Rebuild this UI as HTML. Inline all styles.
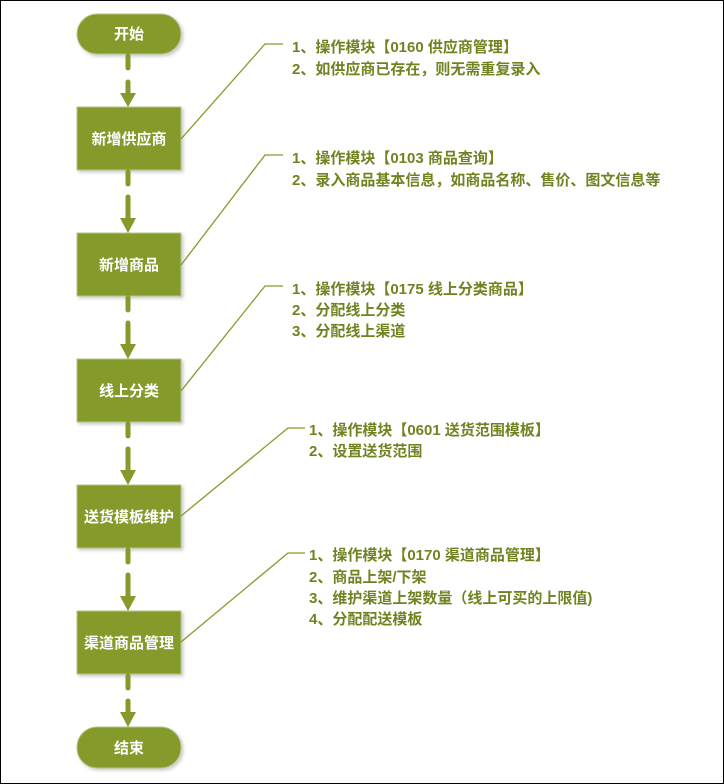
<!DOCTYPE html>
<html><head><meta charset="utf-8"><style>
html,body{margin:0;padding:0;background:#fff}
svg{display:block}
text{font-family:"Liberation Sans","Noto Sans CJK SC",sans-serif;font-weight:bold}
.n{fill:#fff;font-size:15px;text-anchor:middle}
.t{fill:#6f8420;font-size:15px}
</style></head><body>
<svg width="724" height="784" viewBox="0 0 724 784" xmlns="http://www.w3.org/2000/svg">
<defs><filter id="s" x="-10%" y="-10%" width="130%" height="140%"><feDropShadow dx="2" dy="2" stdDeviation="1.5" flood-color="#000" flood-opacity="0.2"/></filter></defs>
<rect x="0.5" y="0.5" width="723" height="783" fill="#fff" stroke="#000" stroke-width="1"/>
<g fill="#849a2b" stroke="#b8c48a" stroke-width="1" filter="url(#s)">
<rect x="77" y="14" width="104" height="40" rx="20"/>
<rect x="77" y="107" width="104" height="63"/>
<rect x="77" y="233" width="104" height="63"/>
<rect x="77" y="359" width="104" height="63"/>
<rect x="77" y="485" width="104" height="63"/>
<rect x="77" y="611" width="104" height="63"/>
<rect x="77" y="727" width="104" height="41" rx="20"/>
</g>
<g stroke="#849a2b" stroke-width="5" stroke-linecap="round" fill="none">
<path d="M128 56V68M128 82V95"/>
<path d="M128 172V184M128 197V219"/>
<path d="M128 298V310M128 323V345"/>
<path d="M128 424V436M128 449V471"/>
<path d="M128 550V562M128 575V597"/>
<path d="M128 676V688M128 701V713"/>
</g>
<g fill="#849a2b">
<path d="M120 93H136L128 107Z"/>
<path d="M120 218H136L128 233Z"/>
<path d="M120 344H136L128 359Z"/>
<path d="M120 470H136L128 485Z"/>
<path d="M120 596H136L128 611Z"/>
<path d="M120 712H136L128 727Z"/>
</g>
<g stroke="#849a2b" stroke-width="1.3" fill="none">
<path d="M181 139L265 44H283"/>
<path d="M181 265L265 155H283"/>
<path d="M181 391L265 286H283"/>
<path d="M181 516L288 428H305"/>
<path d="M181 642L288 553H305"/>
</g>
<text class="n" x="129" y="39">开始</text>
<text class="n" x="129" y="144">新增供应商</text>
<text class="n" x="129" y="270">新增商品</text>
<text class="n" x="129" y="396">线上分类</text>
<text class="n" x="129" y="522">送货模板维护</text>
<text class="n" x="129" y="648">渠道商品管理</text>
<text class="n" x="129" y="753">结束</text>
<text class="t" x="292" y="52">1、操作模块【0160 供应商管理】</text>
<text class="t" x="292" y="74">2、如供应商已存在，则无需重复录入</text>
<text class="t" x="292" y="163">1、操作模块【0103 商品查询】</text>
<text class="t" x="292" y="185">2、录入商品基本信息，如商品名称、售价、图文信息等</text>
<text class="t" x="292" y="294">1、操作模块【0175 线上分类商品】</text>
<text class="t" x="292" y="315">2、分配线上分类</text>
<text class="t" x="292" y="336">3、分配线上渠道</text>
<text class="t" x="309" y="435">1、操作模块【0601 送货范围模板】</text>
<text class="t" x="309" y="456">2、设置送货范围</text>
<text class="t" x="309" y="560">1、操作模块【0170 渠道商品管理】</text>
<text class="t" x="309" y="582">2、商品上架/下架</text>
<text class="t" x="309" y="603">3、维护渠道上架数量（线上可买的上限值)</text>
<text class="t" x="309" y="624">4、分配配送模板</text>
</svg>
</body></html>
